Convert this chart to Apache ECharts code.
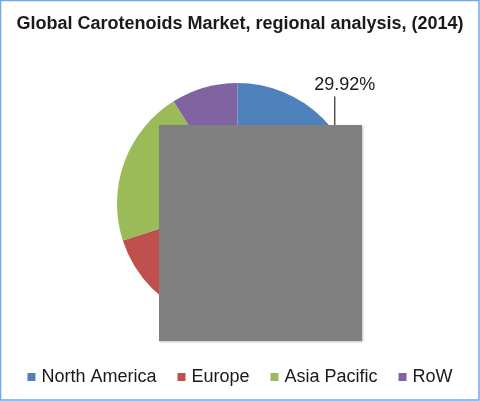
<!DOCTYPE html>
<html>
<head>
<meta charset="utf-8">
<script src="https://cdn.jsdelivr.net/npm/echarts@6/dist/echarts.min.js"></script>
<style>
  html, body { margin: 0; padding: 0; background: #fff; }
  #chart { width: 480px; height: 401px; }
</style>
</head>
<body>
<div id="chart"></div>
<script>
  // regional shares, 2014 (%)
  var regions = ['North America', 'Europe', 'Asia Pacific', 'RoW']
  var shares = [29.92, 40.11, 21.07, 8.9]
  var colors = ['#4f81bd', '#c0504d', '#9bbb59', '#8064a2']
  var labelled = ['North America']

  var chart = echarts.init(document.getElementById('chart'))

  chart.setOption({
    animation: false,
    color: colors,
    title: {
      text: 'Global Carotenoids Market, regional analysis, (2014)',
      left: 'center',
      top: 10,
      textStyle: {
        fontFamily: 'Liberation Sans, Arial, sans-serif',
        fontSize: 18,
        fontWeight: 'bold',
        color: '#1a1a1a'
      }
    },
    legend: {
      bottom: 10,
      left: 'center',
      icon: 'rect',
      itemWidth: 8,
      itemHeight: 8,
      itemGap: 21,
      selectedMode: false,
      textStyle: {
        fontFamily: 'Liberation Sans, Arial, sans-serif',
        fontSize: 18,
        color: '#1a1a1a',
        padding: [0, 0, 0, 1]
      },
      data: regions
    },
    series: [
      {
        type: 'pie',
        center: [237.5, 203.5],
        radius: [0, 120.5],
        startAngle: 90,
        clockwise: true,
        silent: true,
        itemStyle: { borderWidth: 0 },
        label: {
          show: true,
          position: 'outside',
          fontFamily: 'Liberation Sans, Arial, sans-serif',
          fontSize: 18,
          color: '#1a1a1a',
          formatter: function (p) {
            return labelled.indexOf(p.name) >= 0 ? p.value.toFixed(2) + '%' : ''
          }
        },
        labelLine: {
          show: true,
          length: 35,
          length2: 0,
          lineStyle: { color: '#000', width: 1 }
        },
        labelLayout: function (params) {
          var pts = params.labelLinePoints
          if (!pts || labelled.indexOf(regions[params.dataIndex]) < 0) return {}
          var p0 = pts[0]
          return {
            x: p0[0] + 10,
            y: p0[1] - 47,
            align: 'center',
            verticalAlign: 'middle',
            labelLinePoints: [[p0[0], p0[1]], [p0[0], p0[1] - 36], [p0[0], p0[1] - 36]]
          }
        },
        data: regions.map(function (name, i) {
          return {
            name: name,
            value: shares[i],
            labelLine: { show: labelled.indexOf(name) >= 0 }
          }
        })
      }
    ],
    graphic: [
      {
        type: 'rect',
        z: 100,
        shape: { x: 159, y: 125, width: 203, height: 216 },
        style: {
          fill: '#808080',
          shadowBlur: 2,
          shadowColor: 'rgba(0,0,0,0.25)',
          shadowOffsetX: 1,
          shadowOffsetY: 1
        }
      },
      {
        type: 'rect',
        z: 100,
        silent: true,
        shape: { x: 0.5, y: 0.5, width: 478.5, height: 399.5 },
        style: { fill: 'none', stroke: '#6fa6ec', lineWidth: 1.5 }
      }
    ]
  })
</script>
</body>
</html>
